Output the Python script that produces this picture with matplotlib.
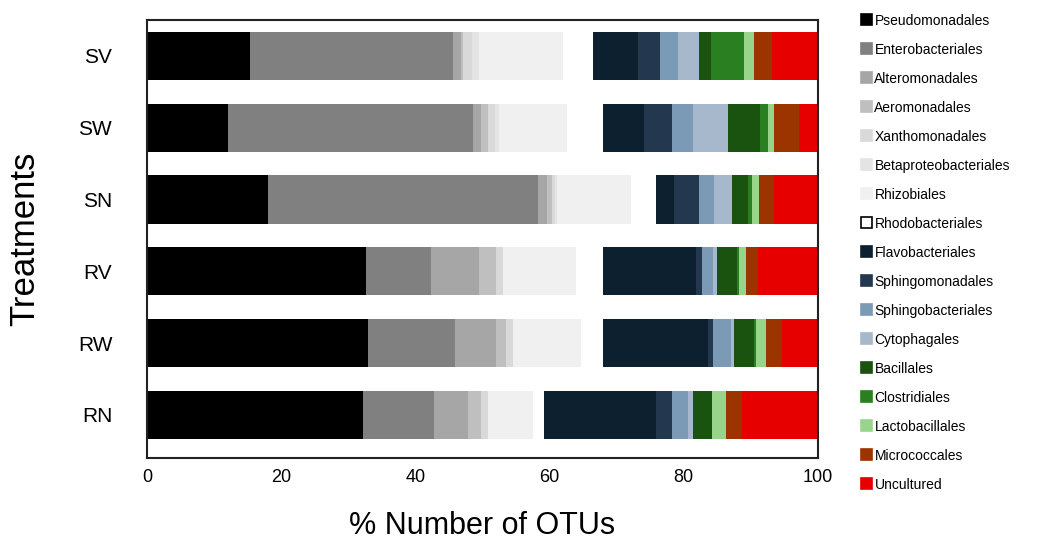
import matplotlib.pyplot as plt
import numpy as np
from matplotlib.patches import Patch

plt.rcParams['font.family'] = ['Liberation Sans', 'DejaVu Sans']

treatments = ['RN', 'RW', 'RV', 'SN', 'SW', 'SV']

orders = ['Pseudomonadales', 'Enterobacteriales', 'Alteromonadales', 'Aeromonadales',
          'Xanthomonadales', 'Betaproteobacteriales', 'Rhizobiales', 'Rhodobacteriales',
          'Flavobacteriales', 'Sphingomonadales', 'Sphingobacteriales', 'Cytophagales',
          'Bacillales', 'Clostridiales', 'Lactobacillales', 'Micrococcales', 'Uncultured']

colors = ['#000000', '#808080', '#a6a6a6', '#bfbfbf',
          '#d9d9d9', '#e4e4e4', '#f0f0f0', '#ffffff',
          '#0c2030', '#23384f', '#7b9ab5', '#a8b8cc',
          '#1a520f', '#2a8020', '#98d58a', '#9c3400', '#e60000']

# % of OTUs per order, one list per treatment (RN, RW, RV, SN, SW, SV)
rn = [32.2, 10.5, 5.1, 2.0, 1.0, 0.0, 6.8, 1.5, 16.8, 2.3, 2.4, 0.8, 2.8, 0.0, 2.1, 2.3, 11.4]
rw = [33.0, 12.9, 6.1, 1.5, 1.1, 0.0, 10.1, 3.3, 15.6, 0.8, 2.7, 0.4, 3.0, 0.2, 1.5, 2.4, 5.4]
rv = [32.7, 9.6, 7.2, 2.5, 1.1, 0.0, 10.9, 4.0, 13.8, 0.9, 1.7, 0.6, 2.9, 0.3, 1.0, 1.8, 9.0]
sn = [18.0, 40.2, 1.4, 0.7, 0.5, 0.3, 11.1, 3.7, 2.6, 3.7, 2.3, 2.7, 2.3, 0.6, 1.1, 2.3, 6.5]
sw = [12.0, 36.6, 1.2, 1.0, 1.0, 0.7, 10.1, 5.4, 6.0, 4.2, 3.1, 5.3, 4.8, 1.2, 0.9, 3.6, 2.9]
sv = [15.3, 30.3, 1.15, 0.35, 1.4, 1.0, 12.5, 4.5, 6.6, 3.3, 2.7, 3.2, 1.8, 4.8, 1.5, 2.7, 6.9]

data = np.array([rn, rw, rv, sn, sw, sv])

fig = plt.figure(figsize=(10.56, 5.43), dpi=100)
ax = fig.add_axes([147 / 1056, 1 - 458 / 543, 671 / 1056, 438 / 543])

y = np.arange(len(treatments))
left = np.zeros(len(treatments))
for i, name in enumerate(orders):
    ax.barh(y, data[:, i], left=left, height=0.67, color=colors[i], linewidth=0)
    left += data[:, i]

ax.set_xlim(0, 100)
ax.set_ylim(-0.6, 5.5)
ax.set_yticks(y)
ax.set_yticklabels(treatments, fontsize=15)
ax.set_xticks([0, 20, 40, 60, 80, 100])
ax.tick_params(axis='x', labelsize=13, length=0, pad=8)
ax.tick_params(axis='y', length=0, pad=25)
for s in ax.spines.values():
    s.set_linewidth(1.5)
    s.set_color('#222222')

ax.set_xlabel('% Number of OTUs', fontsize=22, labelpad=18)
ax.set_ylabel('Treatments', fontsize=25, labelpad=26)

handles = []
for name, c in zip(orders, colors):
    ec = '#000000' if name == 'Rhodobacteriales' else c
    handles.append(Patch(facecolor=c, edgecolor=ec, linewidth=1.2, label=name))

fig.legend(handles=handles, loc='upper left', bbox_to_anchor=(855 / 1056, 1 - 8 / 543),
           frameon=False, fontsize=10, labelspacing=1.08, handlelength=0.8,
           handleheight=0.8, handletextpad=0.2, borderaxespad=0)

fig.savefig('out.png', dpi=100)
